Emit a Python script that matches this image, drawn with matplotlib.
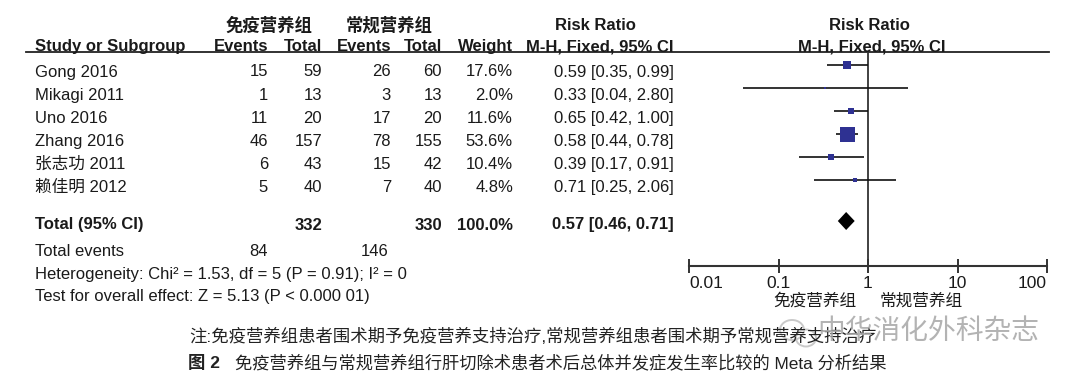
import matplotlib
matplotlib.use("Agg")
import matplotlib.pyplot as plt
from matplotlib.patches import Ellipse
from matplotlib.ticker import FixedLocator, NullLocator, FixedFormatter

plt.rcParams['font.family'] = ['Liberation Sans', 'Noto Sans CJK SC']

# data
studies = ['Gong 2016', 'Mikagi 2011', 'Uno 2016', 'Zhang 2016', '张志功 2011', '赖佳明 2012']
imm_events = [15, 1, 11, 46, 6, 5]
imm_total = [59, 13, 20, 157, 43, 40]
conv_events = [26, 3, 17, 78, 15, 7]
conv_total = [60, 13, 20, 155, 42, 40]
weights = [17.6, 2.0, 11.6, 53.6, 10.4, 4.8]
rr = [0.59, 0.33, 0.65, 0.58, 0.39, 0.71]
rr_lo = [0.35, 0.04, 0.42, 0.44, 0.17, 0.25]
rr_hi = [0.99, 2.80, 1.00, 0.78, 0.91, 2.06]

tot_imm, tot_conv = 332, 330
tot_imm_events, tot_conv_events = 84, 146
tot_rr, tot_lo, tot_hi = 0.57, 0.46, 0.71

group_a = '免疫营养组'
group_b = '常规营养组'
ticks = [0.01, 0.1, 1, 10, 100]
tick_labels = ['0.01', '0.1', '1', '10', '100']

note = '注:免疫营养组患者围术期予免疫营养支持治疗,常规营养组患者围术期予常规营养支持治疗'
caption = '免疫营养组与常规营养组行肝切除术患者术后总体并发症发生率比较的 Meta 分析结果'
watermark = '中华消化外科杂志'

W, H = 1080, 383
fig = plt.figure(figsize=(W / 100, H / 100), dpi=100)

# overlay axes in pixel coordinates for the table text
tx = fig.add_axes([0, 0, 1, 1])
tx.set_xlim(0, W)
tx.set_ylim(H, 0)
tx.axis('off')

fs = 12
dark = '#1a1a1a'

# header
tx.text(269, 25, group_a, ha='center', va='center', fontsize=12.5, fontweight='bold', color=dark)
tx.text(389, 25, group_b, ha='center', va='center', fontsize=12.5, fontweight='bold', color=dark)
tx.text(595, 25, 'Risk Ratio', ha='center', va='center', fontsize=fs, fontweight='bold', color=dark)
tx.text(869, 25, 'Risk Ratio', ha='center', va='center', fontsize=fs, fontweight='bold', color=dark)

hb = 51
tx.text(35, hb, 'Study or Subgroup', ha='left', va='baseline', fontsize=fs, fontweight='bold', color=dark)
for xr, s in [(268, 'Events'), (322, 'Total'), (391, 'Events'), (442, 'Total'), (513, 'Weight')]:
    tx.text(xr, hb, s, ha='right', va='baseline', fontsize=fs, fontweight='bold', color=dark)
tx.text(674, hb, 'M-H, Fixed, 95% CI', ha='right', va='baseline', fontsize=fs, fontweight='bold', color=dark)
tx.text(872, hb, 'M-H, Fixed, 95% CI', ha='center', va='baseline', fontsize=fs, fontweight='bold', color=dark)
tx.plot([26, 1049], [52, 52], color='#222222', lw=1.3)

# study rows
base0, step = 76.5, 23.1
row_base = [base0 + i * step for i in range(len(studies))]
for i, y in enumerate(row_base):
    tx.text(35, y, studies[i], ha='left', va='baseline', fontsize=fs, color=dark)
    tx.text(268, y, str(imm_events[i]), ha='right', va='baseline', fontsize=fs, color=dark)
    tx.text(322, y, str(imm_total[i]), ha='right', va='baseline', fontsize=fs, color=dark)
    tx.text(391, y, str(conv_events[i]), ha='right', va='baseline', fontsize=fs, color=dark)
    tx.text(442, y, str(conv_total[i]), ha='right', va='baseline', fontsize=fs, color=dark)
    tx.text(513, y, f'{weights[i]:.1f}%', ha='right', va='baseline', fontsize=fs, color=dark)
    tx.text(674, y, f'{rr[i]:.2f} [{rr_lo[i]:.2f}, {rr_hi[i]:.2f}]', ha='right', va='baseline',
            fontsize=fs, color=dark)

# totals
yt = 229.5
tx.text(35, yt, 'Total (95% CI)', ha='left', va='baseline', fontsize=fs, fontweight='bold', color=dark)
tx.text(322, yt, str(tot_imm), ha='right', va='baseline', fontsize=fs, fontweight='bold', color=dark)
tx.text(442, yt, str(tot_conv), ha='right', va='baseline', fontsize=fs, fontweight='bold', color=dark)
tx.text(513, yt, f'{sum(weights):.1f}%', ha='right', va='baseline', fontsize=fs, fontweight='bold', color=dark)
tx.text(674, yt, f'{tot_rr:.2f} [{tot_lo:.2f}, {tot_hi:.2f}]', ha='right', va='baseline',
        fontsize=fs, fontweight='bold', color=dark)

tx.text(35, 256, 'Total events', ha='left', va='baseline', fontsize=fs, color=dark)
tx.text(268, 256, str(tot_imm_events), ha='right', va='baseline', fontsize=fs, color=dark)
tx.text(389, 256, str(tot_conv_events), ha='right', va='baseline', fontsize=fs, color=dark)
tx.text(35, 278.5, 'Heterogeneity: Chi² = 1.53, df = 5 (P = 0.91); I² = 0', ha='left', va='baseline',
        fontsize=fs, color=dark)
tx.text(35, 301, 'Test for overall effect: Z = 5.13 (P < 0.000 01)', ha='left', va='baseline',
        fontsize=fs, color=dark)

# group labels under axis
tx.text(815, 301, group_a, ha='center', va='center', fontsize=12, color=dark)
tx.text(921, 301, group_b, ha='center', va='center', fontsize=12, color=dark)

# caption
tx.text(189, 342, note, ha='left', va='baseline', fontsize=12.5, color='#222222')
tx.text(188, 368, '图 2', ha='left', va='baseline', fontsize=12.5, fontweight='bold', color='#222222')
tx.text(235, 368, caption, ha='left', va='baseline', fontsize=12.45, color='#222222')

# journal watermark
for (cx, cy, w, h) in [(792, 330, 24, 20), (806, 338, 20, 17)]:
    tx.add_patch(Ellipse((cx, cy), w, h, fill=False, ec='#c4c4c4', lw=1.4, alpha=0.9))
tx.text(817, 332, watermark, ha='left', va='center', fontsize=20, color='#a6a6a6', alpha=0.85)

# forest plot axes
x0, x1 = 689, 1047
ytop, ybot = 52, 266
ax = fig.add_axes([x0 / W, 1 - ybot / H, (x1 - x0) / W, (ybot - ytop) / H])
ax.set_xscale('log')
ax.set_xlim(0.01, 100)
ax.set_ylim(ybot, ytop)
ax.patch.set_alpha(0)
for s in ['top', 'left', 'right']:
    ax.spines[s].set_visible(False)
ax.spines['bottom'].set_linewidth(1.5)
ax.spines['bottom'].set_color('#333333')
ax.yaxis.set_visible(False)
ax.xaxis.set_major_locator(FixedLocator(ticks))
ax.xaxis.set_major_formatter(FixedFormatter(tick_labels))
ax.xaxis.set_minor_locator(NullLocator())
ax.tick_params(axis='x', direction='inout', length=10, width=1.4, color='#333333',
               labelsize=12.5, pad=2, labelcolor=dark)
labs = ax.get_xticklabels()
labs[0].set_horizontalalignment('left')
labs[-1].set_horizontalalignment('right')

ax.axvline(1, color='#333333', lw=1.3)

sq_color = '#2E3192'
for i, y in enumerate(row_base):
    ym = y - 12
    ax.plot([rr_lo[i], rr_hi[i]], [ym, ym], color='#111111', lw=1.2, solid_capstyle='butt', clip_on=False)
    side = 15 * (weights[i] / max(weights)) ** 0.5
    ax.plot(rr[i], ym, marker='s', ms=side * 0.72, color=sq_color, mec=sq_color, mew=0, clip_on=False)

yd = 221
ax.fill([tot_lo, tot_rr, tot_hi, tot_rr], [yd, yd - 9, yd, yd + 9], color='black', lw=0)

fig.savefig('out.png', dpi=100)
